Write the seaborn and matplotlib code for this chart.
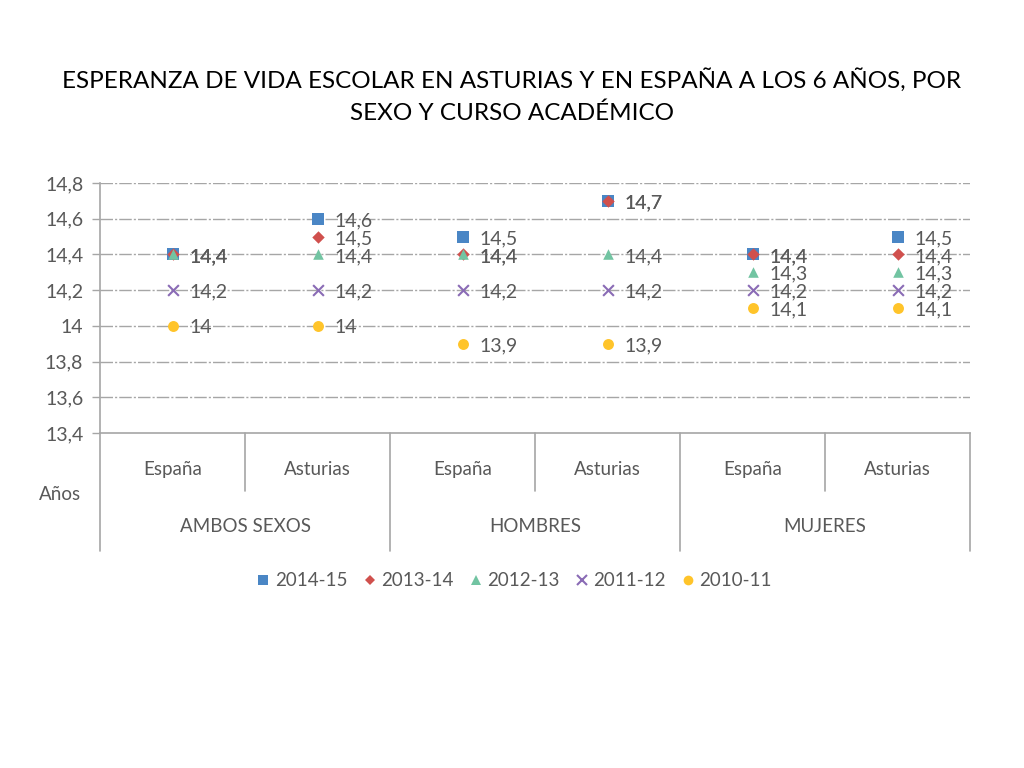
import matplotlib
matplotlib.use("Agg")
import matplotlib.pyplot as plt
import seaborn as sns
import pandas as pd

# ---- data ----
groups = ["AMBOS SEXOS", "HOMBRES", "MUJERES"]
regions = ["España", "Asturias"]
years = ["2014-15", "2013-14", "2012-13", "2011-12", "2010-11"]
v_2014_15 = [14.4, 14.6, 14.5, 14.7, 14.4, 14.5]
v_2013_14 = [14.4, 14.5, 14.4, 14.7, 14.4, 14.4]
v_2012_13 = [14.4, 14.4, 14.4, 14.4, 14.3, 14.3]
v_2011_12 = [14.2, 14.2, 14.2, 14.2, 14.2, 14.2]
v_2010_11 = [14.0, 14.0, 13.9, 13.9, 14.1, 14.1]
yticks = [13.4, 13.6, 13.8, 14.0, 14.2, 14.4, 14.6, 14.8]

series = dict(zip(years, [v_2014_15, v_2013_14, v_2012_13, v_2011_12, v_2010_11]))
cats = [(g, r) for g in groups for r in regions]
rows = []
for y in years:
    for i, v in enumerate(series[y]):
        rows.append({"x": i, "valor": v, "curso": y})
df = pd.DataFrame(rows)

colors = ["#4A86C5", "#D0504D", "#72C4A2", "#8A6BB5", "#FFC42A"]
markers = ["s", "D", "^", "x", "o"]
sizes = {"s": 75, "D": 40, "^": 58, "x": 60, "o": 62}

sns.set_theme(style="white")
plt.rcParams["font.family"] = ["Lato", "DejaVu Sans"]
gray = "#595959"
lgray = "#A6A6A6"

def fmt(v):
    return f"{v:.1f}".replace(".", ",").replace(",0", "")

fig = plt.figure(figsize=(10.24, 7.68), dpi=100)
ax = fig.add_axes([100 / 1024, 1 - 433 / 768, 870 / 1024, 250 / 768])

for y, c, m in zip(years, colors, markers):
    sub = df[df["curso"] == y]
    sns.scatterplot(data=sub, x="x", y="valor", ax=ax, color=c, marker=m,
                    s=sizes[m], linewidth=1.5 if m == "x" else 0,
                    label=y, legend=False, zorder=3)
    for _, r in sub.iterrows():
        ax.annotate(fmt(r["valor"]), (r["x"], r["valor"]), xytext=(12, -1.5),
                    textcoords="offset points", ha="left", va="center",
                    fontsize=14, color=gray, zorder=4)

ax.set_xlim(-0.5, len(cats) - 0.5)
ax.set_ylim(13.4, 14.8)
ax.set_yticks(yticks)
ax.set_yticklabels([fmt(t) for t in yticks], fontsize=14, color=gray)
ax.tick_params(axis="y", length=6, color=lgray, left=True, pad=6, width=1)
ax.set_xticks([])
ax.set_xlabel("")
ax.set_ylabel("")
for t in yticks[1:]:
    ax.axhline(t, color=lgray, lw=1.0, ls=(0, (9, 1.5, 1.5, 1.5)), zorder=1)
for s in ["top", "right"]:
    ax.spines[s].set_visible(False)
for s in ["left", "bottom"]:
    ax.spines[s].set_color(lgray)
    ax.spines[s].set_linewidth(1.2)

# hierarchical category axis
trans = ax.get_xaxis_transform()
for k in range(len(cats) + 1):
    xb = k - 0.5
    ybot = -0.47 if k % 2 == 0 else -0.23
    ax.plot([xb, xb], [0, ybot], transform=trans, color=lgray, lw=1.2, clip_on=False)
for i, (g, r) in enumerate(cats):
    ax.text(i, -0.145, r, transform=trans, ha="center", va="center", fontsize=13.5, color=gray)
for j, g in enumerate(groups):
    ax.text(2 * j + 0.5, -0.375, g, transform=trans, ha="center", va="center",
            fontsize=13.5, color=gray)
fig.text(60 / 1024, 1 - 495 / 768, "Años", ha="center", va="center", fontsize=13.5, color=gray)

# legend
handles = []
for y, c, m in zip(years, colors, markers):
    h = plt.Line2D([], [], ls="none", marker=m, color=c, markersize=7 if m != "D" else 5.5,
                   markeredgewidth=1.5 if m == "x" else 0, label=y)
    handles.append(h)
fig.legend(handles=handles, loc="center", bbox_to_anchor=(512 / 1024, 1 - 581 / 768),
           ncol=5, frameon=False, fontsize=13.5, handletextpad=0.0, columnspacing=0.6,
           handlelength=1.2, labelcolor=gray)

fig.text(0.5, 1 - 80 / 768, "ESPERANZA DE VIDA ESCOLAR EN ASTURIAS Y EN ESPAÑA A LOS 6 AÑOS, POR",
         ha="center", va="center", fontsize=17.5, color="black")
fig.text(0.5, 1 - 113 / 768, "SEXO Y CURSO ACADÉMICO",
         ha="center", va="center", fontsize=17.5, color="black")

fig.savefig("out.png", dpi=100, facecolor="white")
